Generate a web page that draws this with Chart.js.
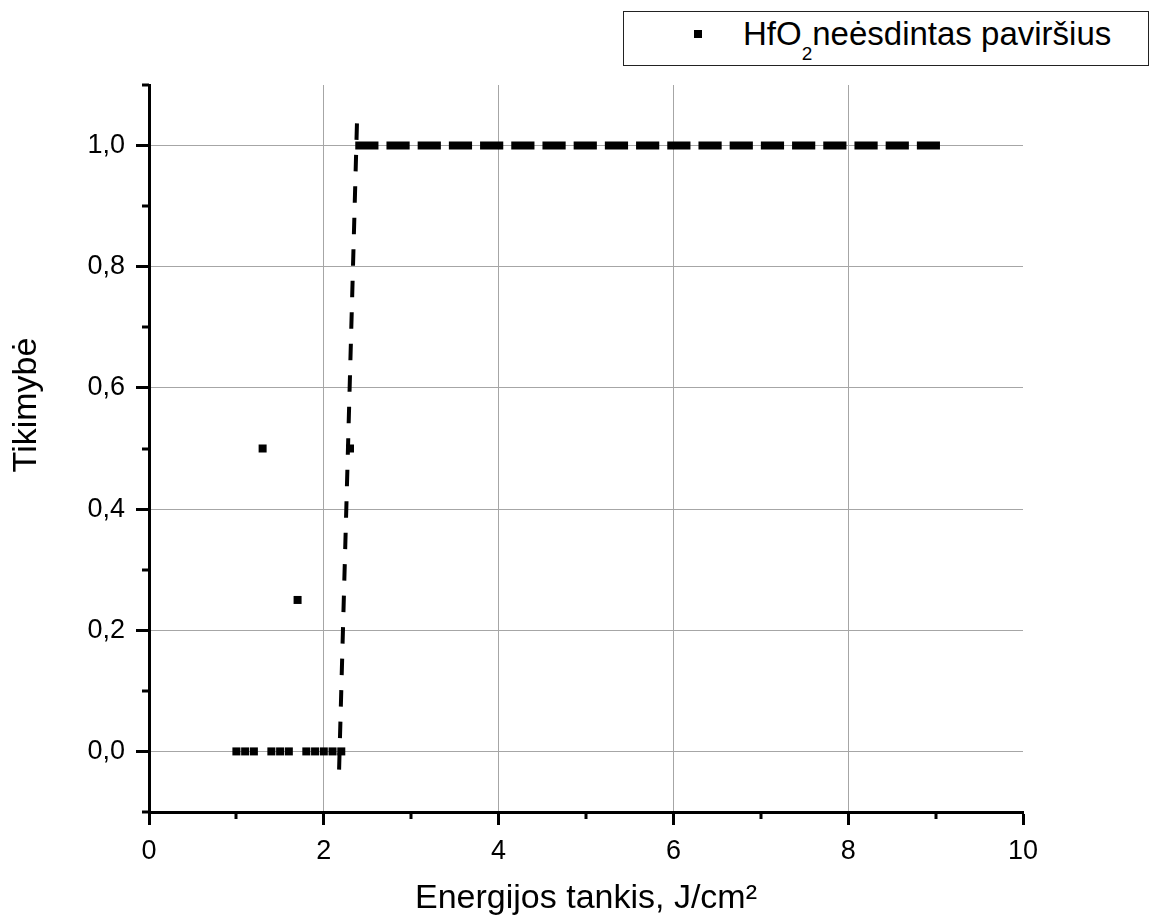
<!DOCTYPE html>
<html>
<head>
<meta charset="utf-8">
<script src="https://cdn.jsdelivr.net/npm/chart.js@4.4.0/dist/chart.umd.min.js"></script>
<style>
html,body{margin:0;padding:0;background:#fff;}
#wrap{position:relative;width:1157px;height:921px;}
#c{display:block;}
#legend{position:absolute;left:623px;top:11px;width:526px;height:55px;border:1px solid #222;box-sizing:border-box;
  font-family:"Liberation Sans",Arial,sans-serif;color:#000;background:#fff;}
#legend .mk{position:absolute;left:70px;top:18px;width:8px;height:8px;background:#000;}
#legend .tx{position:absolute;left:119px;top:5px;font-size:33px;line-height:33px;white-space:nowrap;}
#legend sub{font-size:19px;vertical-align:-15px;line-height:0;}
</style>
</head>
<body>
<div id="wrap">
<canvas id="c" width="1157" height="921"></canvas>
<div id="legend"><div class="mk"></div><div class="tx">HfO<sub>2</sub>neėsdintas paviršius</div></div>
</div>
<script>
// measured data (probability of damage vs fluence)
const scatterX = [1.0, 1.1, 1.2, 1.3, 1.4, 1.5, 1.6, 1.7, 1.8, 1.9, 2.0, 2.1, 2.2, 2.3];
const scatterY = [0, 0, 0, 0.5, 0, 0, 0, 0.25, 0, 0, 0, 0, 0, 0.5];
// fitted step curve
const riseX = [2.175, 2.38];
const riseY = [-0.03, 1.04];
const plateauX = [2.36, 9.05];
const plateauY = [1.0, 1.0];
// axis ticks
const xMajorTicks = [0, 2, 4, 6, 8, 10];
const xMinorTicks = [1, 3, 5, 7, 9];
const yMajorTicks = [0, 0.2, 0.4, 0.6, 0.8, 1.0];
const yMinorTicks = [-0.1, 0.1, 0.3, 0.5, 0.7, 0.9, 1.1];
const yTitleText = 'Tikimybė';

const FONT = '"Liberation Sans", Arial, sans-serif';
const toPts = (xs, ys) => xs.map((x, i) => ({x: x, y: ys[i]}));

const extras = {
  id: 'extras',
  afterDraw(chart) {
    const ctx = chart.ctx, xs = chart.scales.x, ys = chart.scales.y;
    const area = chart.chartArea;
    ctx.save();
    ctx.strokeStyle = '#000';
    ctx.lineWidth = 3;
    ctx.lineCap = 'butt';
    xMinorTicks.forEach(v => {
      const px = Math.round(xs.getPixelForValue(v));
      ctx.beginPath(); ctx.moveTo(px, area.bottom); ctx.lineTo(px, area.bottom + 7); ctx.stroke();
    });
    yMinorTicks.forEach(v => {
      const py = Math.round(ys.getPixelForValue(v));
      ctx.beginPath(); ctx.moveTo(area.left - 7, py); ctx.lineTo(area.left, py); ctx.stroke();
    });
    // y axis title
    ctx.fillStyle = '#000';
    ctx.font = '34px ' + FONT;
    ctx.textAlign = 'center';
    ctx.textBaseline = 'middle';
    ctx.translate(27, 405);
    ctx.rotate(-Math.PI / 2);
    ctx.fillText(yTitleText, 0, 0);
    ctx.restore();
  }
};

new Chart(document.getElementById('c'), {
  type: 'scatter',
  data: {
    datasets: [
      {
        label: 'HfO2 neėsdintas paviršius',
        data: toPts(scatterX, scatterY),
        pointStyle: 'rect',
        pointRadius: 5.66,
        pointBorderWidth: 0,
        backgroundColor: '#000',
        borderColor: '#000',
        order: 0
      },
      {
        label: 'fit rise',
        data: toPts(riseX, riseY),
        showLine: true,
        borderColor: '#000',
        borderWidth: 4,
        borderDash: [16.5, 15],
        borderCapStyle: 'butt',
        pointRadius: 0,
        order: 1
      },
      {
        label: 'fit plateau',
        data: toPts(plateauX, plateauY),
        showLine: true,
        borderColor: '#000',
        borderWidth: 8,
        borderDash: [23.2, 8],
        borderCapStyle: 'butt',
        pointRadius: 0,
        order: 1
      }
    ]
  },
  options: {
    responsive: false,
    animation: false,
    layout: {padding: {top: 85, right: 134, left: 0, bottom: 0}},
    plugins: {legend: {display: false}, tooltip: {enabled: false}},
    scales: {
      x: {
        type: 'linear',
        min: 0, max: 10,
        afterBuildTicks: s => { s.ticks = xMajorTicks.map(v => ({value: v})); },
        afterFit: s => { s.height = 109; },
        grid: {
          color: c => (c.tick && (c.tick.value === 10 || c.tick.value === 0)) ? 'rgba(0,0,0,0)' : '#a6a6a6',
          lineWidth: 1,
          tickColor: '#000',
          tickWidth: 3,
          tickLength: 13
        },
        border: {color: '#000', width: 3},
        ticks: {
          color: '#000', padding: 10,
          font: {family: FONT, size: 27},
          callback: v => String(v)
        },
        title: {
          display: true,
          text: 'Energijos tankis, J/cm²',
          color: '#000',
          font: {family: FONT, size: 34, lineHeight: 1},
          padding: {top: 0, bottom: 5}
        }
      },
      y: {
        type: 'linear',
        min: -0.1, max: 1.1,
        afterBuildTicks: s => { s.ticks = yMajorTicks.map(v => ({value: v})); },
        afterFit: s => { s.width = 149; },
        grid: {
          color: '#a6a6a6',
          lineWidth: 1,
          tickColor: '#000',
          tickWidth: 3,
          tickLength: 13
        },
        border: {color: '#000', width: 3},
        ticks: {
          color: '#000', padding: 11,
          font: {family: FONT, size: 27},
          callback: v => Number(v).toFixed(1).replace('.', ',')
        },
        title: {display: false}
      }
    }
  },
  plugins: [extras]
});
</script>
</body>
</html>
